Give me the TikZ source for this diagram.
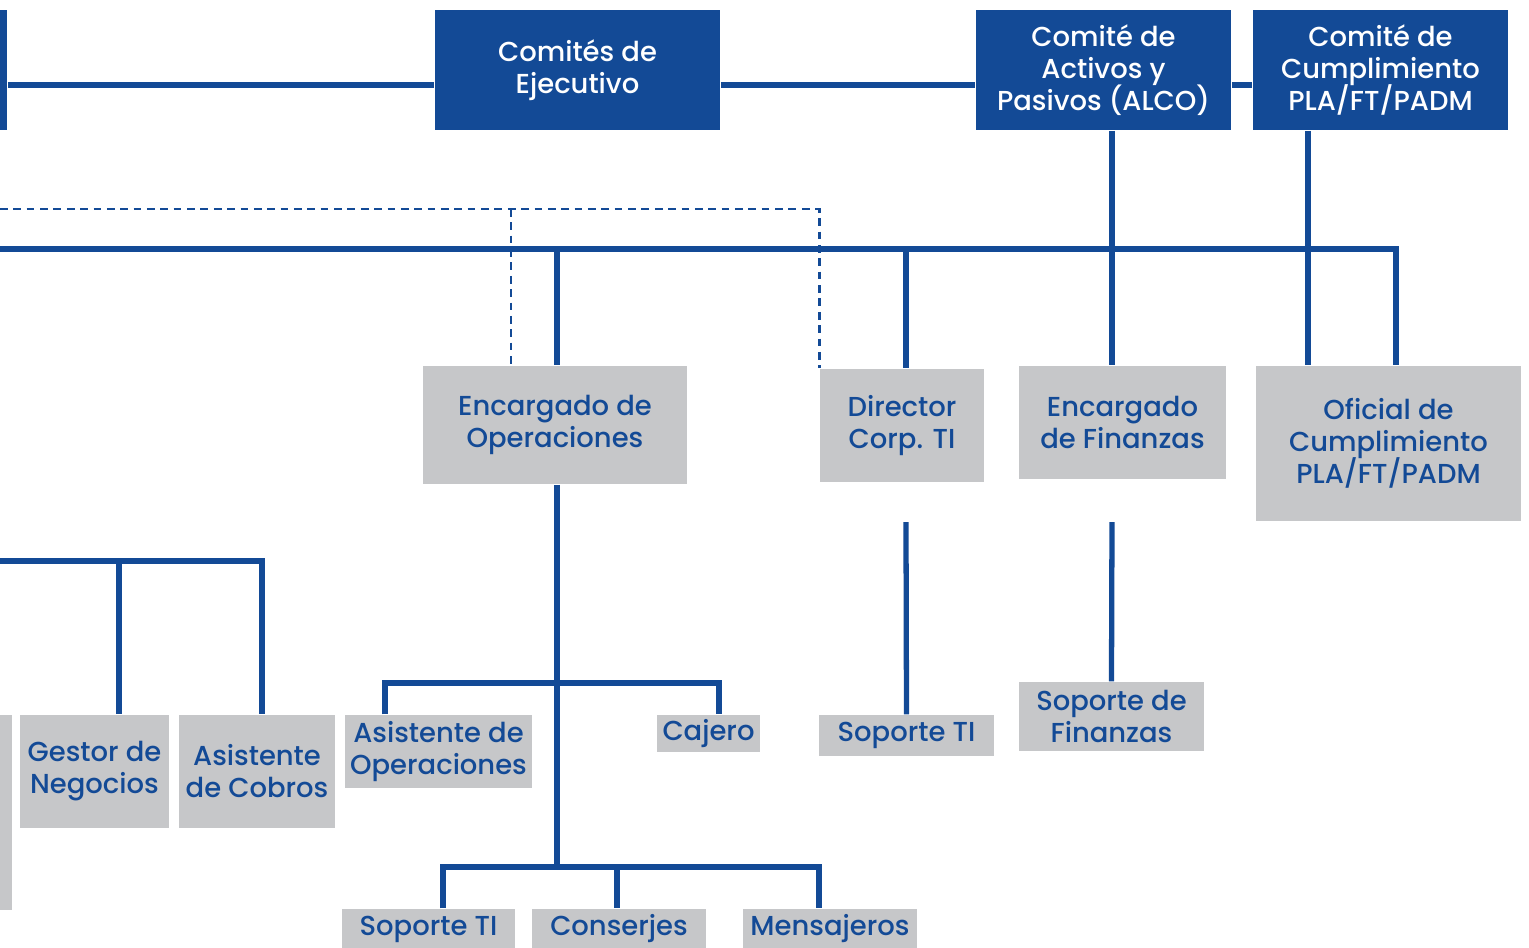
\documentclass[tikz,border=0pt]{standalone}
\usepackage{fontspec}
\setmainfont{Poppins}[UprightFont={* Medium}]
\usetikzlibrary{positioning}
\definecolor{orgblue}{HTML}{134A96}
\definecolor{orggray}{HTML}{C6C7C9}
\newcommand\orgfont{\fontsize{7.8}{9.1}\selectfont\lineskiplimit=-5pt\relax}

\begin{document}
\begin{tikzpicture}[x=0.01cm,y=-0.01cm,
  boxb/.style={fill=orgblue,text=white,align=center,inner sep=0pt,font=\orgfont},
  boxg/.style={fill=orggray,text=orgblue,align=center,inner sep=0pt,font=\orgfont},
  link/.style={draw=orgblue,line width=1.5pt},
  dlink/.style={draw=orgblue,line width=0.8pt,dash pattern=on 2.2pt off 1.6pt}
]
\useasboundingbox (0,0) rectangle (1529,947);
\clip (0,0) rectangle (1529,947);

% committees
\node[boxb,minimum width=2cm,minimum height=1.2cm] at (-93,70) (lblue) {};
\node[boxb,minimum width=2.85cm,minimum height=1.2cm] at (577.5,70) (ejec) {Comités de\\Ejecutivo};
\node[boxb,minimum width=2.55cm,minimum height=1.2cm] at (1103.5,70) (alco) {Comité de\\Activos y\\Pasivos (ALCO)};
\node[boxb,minimum width=2.55cm,minimum height=1.2cm] at (1380.5,70) (cumpl) {Comité de\\Cumplimiento\\PLA/FT/PADM};

% managers
\node[boxg,minimum width=2.64cm,minimum height=1.18cm] at (555,425) (ops) {Encargado de\\Operaciones};
\node[boxg,minimum width=1.64cm,minimum height=1.13cm] at (902,425.5) (dir) {Director\\Corp. TI};
\node[boxg,minimum width=2.07cm,minimum height=1.13cm] at (1122.5,422.5) (fin) {Encargado\\de Finanzas};
\node[boxg,minimum width=2.65cm,minimum height=1.55cm] at (1388.5,443.5) (ofi) {Oficial de\\Cumplimiento\\PLA/FT/PADM};

% staff
\node[boxg,minimum width=1.64cm,minimum height=1.95cm] at (-70,812.5) (lgray) {};
\node[boxg,minimum width=1.49cm,minimum height=1.13cm] at (94.5,771.5) (gestor) {Gestor de\\Negocios};
\node[boxg,minimum width=1.56cm,minimum height=1.13cm] at (257,771.5) (cobros) {Asistente\\de Cobros};
\node[boxg,minimum width=1.87cm,minimum height=0.73cm] at (438.5,751.5) (asop) {Asistente de\\Operaciones};
\node[boxg,minimum width=1.03cm,minimum height=0.37cm] at (708.5,733.5) (cajero) {Cajero};
\node[boxg,minimum width=1.75cm,minimum height=0.41cm] at (906.5,735.5) (sopti) {Soporte TI};
\node[boxg,minimum width=1.85cm,minimum height=0.69cm] at (1111.5,716.5) (sopfin) {Soporte de\\Finanzas};
\node[boxg,minimum width=1.73cm,minimum height=0.4cm] at (428.5,929) (sopti2) {Soporte TI};
\node[boxg,minimum width=1.74cm,minimum height=0.4cm] at (619,929) (conserje) {Conserjes};
\node[boxg,minimum width=1.74cm,minimum height=0.4cm] at (830,929) (mensaje) {Mensajeros};

% buses and columns
\coordinate (topbus) at (0,85);
\coordinate (dashbus) at (0,209);
\coordinate (mainbus) at (0,249);
\coordinate (lbus) at (0,561);
\coordinate (midbus) at (0,683);
\coordinate (lowbus) at (0,867);
\coordinate (opx) at (557,0);
\coordinate (dashx) at (511,0);
\coordinate (dirx) at (906,0);
\coordinate (finx) at (1112,0);
\coordinate (cumx) at (1308,0);
\coordinate (ofix) at (1396,0);
\coordinate (gx) at (119,0);
\coordinate (cx) at (262,0);
\coordinate (ax) at (385,0);
\coordinate (cjx) at (719,0);
\coordinate (s1x) at (443,0);
\coordinate (s2x) at (617,0);
\coordinate (s3x) at (819,0);
\coordinate (dirgap) at (906,522);
\coordinate (fingap) at (1112,522);

\draw[link] (lblue.east |- topbus) -- (ejec.west |- topbus);
\draw[link] (ejec.east |- topbus) -- (alco.west |- topbus);
\draw[link] (alco.east |- topbus) -- (cumpl.west |- topbus);
\draw[link] (alco.south -| finx) -- (fin.north -| finx);
\draw[link] (cumpl.south -| cumx) -- (ofi.north -| cumx);

\draw[dlink] (dashbus) -- (dashbus -| dir.west) -- (dir.north west);
\draw[dlink] (dashbus -| dashx) -- (ops.north -| dashx);

\draw[link] (mainbus) -- (mainbus -| ofix) -- (ofi.north -| ofix);
\draw[link] (mainbus -| opx) -- (ops.north -| opx);
\draw[link] (mainbus -| dirx) -- (dir.north -| dirx);

\draw[link] (dirgap) -- (sopti.north);
\draw[link] (fingap) -- (sopfin.north);

\draw[link] (lbus) -- (lbus -| cx) -- (cobros.north -| cx);
\draw[link] (lbus -| gx) -- (gestor.north -| gx);

\draw[link] (ops.south -| opx) -- (lowbus -| opx);
\draw[link] (asop.north -| ax) -- (midbus -| ax) -- (midbus -| cjx) -- (cajero.north -| cjx);
\draw[link] (sopti2.north -| s1x) -- (lowbus -| s1x) -- (lowbus -| s3x) -- (mensaje.north -| s3x);
\draw[link] (lowbus -| s2x) -- (conserje.north -| s2x);

\end{tikzpicture}
\end{document}
